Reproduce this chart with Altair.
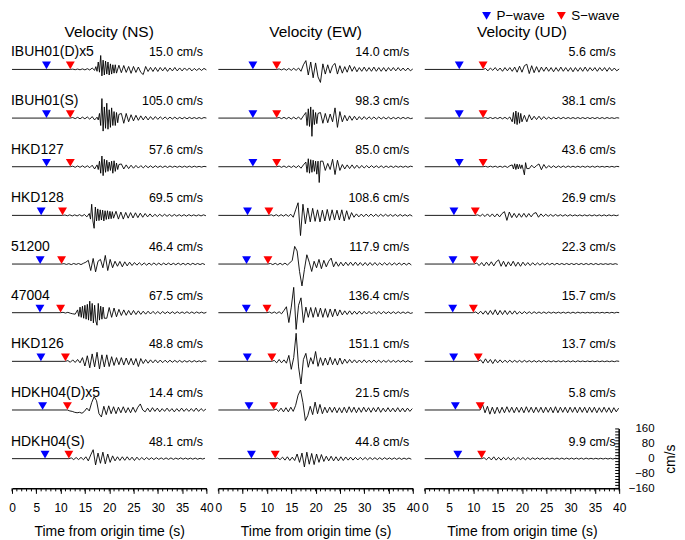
import altair as alt
import pandas as pd

# ---------------- data ----------------
stations = ["IBUH01(D)x5", "IBUH01(S)", "HKD127", "HKD128", "51200",
            "47004", "HKD126", "HDKH04(D)x5", "HDKH04(S)"]
gains = [5, 1, 1, 1, 1, 1, 1, 5, 1]
p_times = [7.1, 7.1, 7.1, 6.0, 5.8, 5.75, 5.95, 6.3, 6.8]
s_times = [12.0, 12.0, 12.0, 10.4, 10.2, 10.0, 11.0, 11.4, 11.7]
peaks_ns = [15.0, 105.0, 57.6, 69.5, 46.4, 67.5, 48.8, 14.4, 48.1]
peaks_ew = [14.0, 98.3, 85.0, 108.6, 117.9, 136.4, 151.1, 21.5, 44.8]
peaks_ud = [5.6, 38.1, 43.6, 26.9, 22.3, 15.7, 13.7, 5.8, 9.9]
titles = ["Velocity (NS)", "Velocity (EW)", "Velocity (UD)"]
legend_labels = ["P\u2212wave", "S\u2212wave"]
x_ticks = [0, 5, 10, 15, 20, 25, 30, 35, 40]
scale_labels = [-160, -80, 0, 80, 160]
row_gap = 262      # cm/s between trace baselines
dt = 0.5           # s between samples, samples start at the S arrival
dt_burst = 0.25    # s between samples inside the strongest bursts

# velocity samples (cm/s) from the S arrival on
ns1 = [0, 0.3, -0.3, 0.4, -0.4, 0.6, -0.5, 0.8, -0.6, 1.5,
       -2, 6, 15.0, -7.5, 9.5, -6.5, 7.5, -5.5, 5.5, -4.5,
       4.5, -3.5, 4.2, -3.2, 3.2, -4.2, 3.2, -3.2, 2.6, -3.2,
       -5.5, 3.2, -2.2, 2.2, -2.2, 2.2, -2.2, 2.1, -1.6, 2.1,
       -2.1, 1.6, -1.6, 2.1, -1.6, 1.6, -1.6, 1.6, -1.1, 1.6,
       -1.6, 1.1, -1.1, 1.1, -1.1, 1.1, -0.5]
ns2 = [0, 3, -3, 4, -4, 5, -4, 6, -6, 8,
       -10, 15, -30, 105.0, -70, 80, -60, 60, -50, 35,
       -30, 25, -28, 25, -20, 18, -15, 15, -12, 12,
       -10, 10, -10, 8, -8, 8, -7, 7, -6, 6,
       -6, 5, -5, 5, -5, 4, -4, 4, -4, 4,
       -3, 3, -3, 3, -3, 3, 0]
ns3 = [0, 3, -3, 4, -3, 5, -4, 5, -5, 8,
       -12, 30, -40, 57.6, -48, 40, -35, 30, -38, 32,
       -25, 15, -12, 10, -10, 8, -8, 7, -7, 6,
       -6, 6, -5, 5, -5, 5, -4, 4, -4, 4,
       -4, 4, -3, 3, -3, 3, -3, 3, -3, 3,
       -3, 3, -2, 2, -2, 2, 0]
ns4 = [0, 2, -2, 3, -3, 3, -3, 4, -4, 5,
       -8, 25, 60, -69.5, 40, -35, 30, -32, 28, -25,
       30, -25, 22, -20, 18, -20, 16, -15, 15, -14,
       14, -12, 12, -10, 10, -8, 8, -8, 6, -6,
       6, -5, 6, -5, 5, -5, 5, -4, 4, -4,
       4, -4, 4, -3, 3, -3, 3, -3, 3, -2]
ns5 = [0, 2, -2, 2, -3, 3, -2, 3, -3, 4,
       10, 20, -35, 30, -42, 15, 25, -20, 46.4, -35,
       25, -20, 15, -12, 14, -15, 12, -10, 10, -8,
       8, -6, 7, -6, 6, -6, 5, -5, 6, -5,
       5, -5, 5, -4, 5, -4, 4, -4, 5, -4,
       4, -4, 4, -4, 4, -3, 3, -3, 3, -3]
ns6 = [0, 2, -2, 2, -3, -6, -8, 15, -25, 35,
       -40, 45, 62, -50, 45, -67.5, 50, -40, 35, -30,
       28, -25, 25, -22, 18, -15, 15, -14, 12, -12,
       12, -10, 10, -9, 8, -8, 8, -7, 7, -6,
       6, -6, 6, -5, 5, -5, 5, -5, 5, -4,
       4, -4, 5, -4, 4, -4, 4, -3, 3, -3, 2]
ns7 = [0, 4, -5, 8, -6, 10, -8, 20, -25, 30,
       -35, 40, -30, 48.8, -41, 35, -30, 35, -28, 25,
       -22, 20, -18, 20, -20, 18, -18, 16, -20, 15,
       -28, 15, -12, 10, -10, 8, -8, 8, -8, 7,
       -7, 6, -6, 6, -5, 5, -5, 5, -5, 4,
       -4, 4, -4, 4, -3, 3, -3, 3, 0]
ns8 = [0, -1, -1.5, -2.5, -3, -2.5, -3.5, -1.5, 2, -1,
       8, 14.4, 10, -4, -7.5, 4, -5, 4.5, -4, 3.5,
       -4, 3, -3, 3.5, -3, 2.5, -3, 3, -2.5, 3,
       6.5, 0, -2, 2, -2, 2.5, -1.5, 2, -2, 1.5,
       -1.5, 2, -1.5, 1.5, -2, 1.5, -1.5, 2, -1.5, 1.5,
       -1.5, 1.5, -1.5, 2, -1.5, 1.5, -1, 1]
ns9 = [0, 4, -5, 6, -5, 7, -6, 10, -12, 20,
       48.1, -34, 30, -25, 35, -28, 25, -20, 15, -12,
       10, -10, 10, -9, 10, -8, 8, -10, 8, -7,
       6, -6, 6, -5, 5, -5, 5, -4, 4, -4,
       4, -4, 4, -4, 3, -3, 4, -3, 3, -3,
       3, -3, 3, -3, 2, -2, 2]

ew1 = [0, 0.5, -0.5, 0.8, -0.8, 1, -1, 1.2, -1, 1.5,
       -2, 5, 9.5, -6, 8, -9, 7, -8, -14.0, 6,
       -5, 5, -4, 4, 6.5, -5, 4, -4, 3, -3,
       4.5, -2, 3, -2.5, 2, -2, 2.5, -2, 2, -2,
       2.5, -2, 2, -2, 2, -2, 2, -1.5, 2, -1.5,
       2, -1.5, 1.5, -1.5, 1.5, -1.5, 0.5]
ew2 = [0, 3, -3, 4, -4, 4, -5, 5, -5, 6,
       -8, 12, 30, -40, 60, -98.3, 45, -35, 30, -28,
       25, -25, 22, -20, 55, -50, 35, -20, 15, -15,
       12, -12, 10, -10, 8, -8, 8, -7, 7, -6,
       6, -6, 6, -5, 5, -5, 5, -5, 4, -4,
       4, -4, 4, -3, 3, -3, 0]
ew3 = [0, 3, -3, 4, -4, 4, -4, 5, -5, 6,
       -8, 10, 25, -30, 43, -35, 38, -30, -85.0, 30,
       -20, 18, -15, 40, -42, 35, -20, 12, -12, 10,
       -10, 10, -9, 8, -8, 7, -7, 6, -6, 6,
       -5, 5, -5, 5, -5, 4, -4, 4, -4, 4,
       -3, 3, -3, 3, -3, 3, 0]
ew4 = [0, 3, -3, 4, -4, 4, -4, 5, -5, 6,
       -10, 30, 68, -108.6, 60, -45, 40, -35, 38, -32,
       30, -35, 28, -30, 32, -28, 30, -25, 28, -25,
       30, -30, 25, -22, 15, -10, 8, -8, 7, -7,
       7, -6, 7, -6, 6, -6, 6, -5, 6, -5,
       5, -5, 5, -5, 5, -4, 4, -4, 4, -4]
ew5 = [0, 3, -3, 4, -4, 4, -4, 5, -5, 6,
       20, 95, 70, -40, -117.9, -30, 50, 10, -40, 15,
       -20, 25, -25, 20, -15, 15, 32, -15, 12, -12,
       10, -10, 10, -8, 10, -8, 10, -8, 8, -8,
       8, -8, 8, -7, 8, -7, 6, -6, 7, -6,
       6, -6, 6, -5, 6, -5, 5, -5, 5, -5]
ew6 = [0, 3, -3, 4, -4, 5, -6, 12, 32, -53,
       30, 136.4, -90, 40, 80, -53, 30, -25, 28, -25,
       28, -22, 25, -25, 22, -25, 20, -22, 20, -18,
       15, -12, 10, -10, 10, -9, 8, -8, 8, -8,
       7, -7, 7, -7, 6, -6, 6, -6, 6, -5,
       5, -5, 5, -5, 5, -4, 4, -4, 4, -4, 0]
ew7 = [0, 5, -8, 10, -8, 8, -10, 32, -43, 20,
       151.1, -30, -122, 10, 43, -32, 20, -15, 53, -27,
       20, -22, 18, -20, 22, -18, 15, -20, 18, -15,
       12, -10, 10, -8, 8, -8, 7, -7, 8, -7,
       6, -6, 7, -6, 6, -6, 5, -5, 6, -5,
       5, -5, 5, -4, 5, -4, 4, -4, 0]
ew8 = [0, 1, -1.5, 2, -2, 2.5, -2, 3, -1.5, 5,
       16, 21.5, 8, -11.4, -6, 4, -5, 8.5, -4, 6,
       -4, 3, -3, 3, -2.5, 3, -3, 2.5, -3, 3,
       -3, 3.5, -2.5, 3, -3, 2.5, -2.5, 3, -2, 2.5,
       -2.5, 2.5, -2, 3, -2.5, 2, -2, 2.5, -2, 2,
       -2, 2.5, -2, 2, -2, 2, -1.5, 1.5]
ew9 = [0, 3, -5, 8, -8, 10, -10, 8, -10, 25,
       -20, 30, -44.8, 35, -30, 28, -32, 25, -20, 22,
       -15, 13, -12, 13, -12, 10, -12, 10, -10, 9,
       -8, 8, -8, 7, -7, 7, -6, 6, -6, 6,
       -5, 5, -5, 5, -5, 5, -4, 4, -4, 4,
       -4, 4, -4, 3, -3, 3, -3]

ud1 = [0, 1, -1.5, 1.5, -1, 2, -1.5, 1.5, -2, 2,
       -1.5, 2, -2, 2.5, -3, 3.5, -3, 4, 5.6, -4.5,
       4, -3.5, 3, -3, 2.5, -2, 2.5, -2, 2, -2.5,
       2, -2, 2.5, -2, 2, -2, 2, -2.5, 2, -2,
       2, -2, 2.5, -2, 2, -1.5, 2, -2, 2, -1.5,
       2, -2, 2, -1.5, 1.5, -1.5, 0.5]
ud2 = [0, 2, -2, 3, -3, 3, -3, 4, -4, 4,
       -5, 6, -20, 38.1, -35, 30, -25, 15, -20, 18,
       -10, 10, -8, 10, -8, 8, -6, 5, -5, 4,
       -4, 4, -4, 4, -3, 3, -3, 3, -3, 3,
       -3, 3, -3, 3, -3, 3, -3, 3, -3, 3,
       -3, 3, -2, 2, -2, 2, 0]
ud3 = [0, 2, -2, 3, -2, 3, -3, 3, -3, 4,
       -4, 5, 10, -15, 16, -14, 12, -43.6, 22, -10,
       8, -6, 6, 15, -16, 12, -8, 6, -5, 5,
       -5, 4, -4, 4, -4, 4, -3, 3, -3, 3,
       -3, 3, -3, 3, -3, 3, -3, 3, -2, 2,
       -2, 2, -2, 2, -2, 2, 0]
ud4 = [0, 3, -4, 6, -6, 8, -7, 8, -8, 8,
       -8, 10, 20, -26.9, 18, -12, 11, -12, 10, -10,
       11, -10, 10, -8, 10, 15, -10, 8, -6, 6,
       -5, 5, -5, 5, -4, 4, -4, 4, -4, 4,
       -3, 3, -3, 3, -3, 3, -3, 3, -3, 3,
       -3, 3, -3, 3, -3, 3, -2, 2, -2, 2]
ud5 = [0, 5, -8, 8, -10, 10, -8, 12, -10, 12,
       22.3, -12, 15, -14, 12, -10, 15, -12, 10, -12,
       10, -8, 8, -8, 7, -6, 6, -6, 5, -5,
       5, -4, 4, -4, 4, -3, 3, -3, 3, -3,
       3, -3, 3, -3, 3, -3, 3, -3, 3, -3,
       3, -3, 2, -2, 2, -2, 2, -2, 2, -2]
ud6 = [0, 4, -6, 8, -8, 10, -10, 12, -10, 15.7,
       -12, 12, -10, 12, -10, 10, -8, 10, -8, 6,
       -6, 6, -5, 5, -5, 5, -4, 4, -4, 4,
       -4, 4, -3, 3, -3, 3, -3, 3, -3, 3,
       -3, 3, -3, 3, -2, 2, -2, 2, -2, 2,
       -2, 2, -2, 2, -2, 2, -2, 2, -2, 2, 0]
ud7 = [0, 8, -10, 13.7, -8, 10, -12, 10, -8, 8,
       -7, 6, -6, 6, -5, 5, -5, 5, -5, 5,
       -4, 4, -4, 4, -4, 4, -4, 4, -3, 3,
       -3, 3, -3, 3, -3, 3, -3, 3, -3, 3,
       -3, 3, -2, 2, -2, 2, -2, 2, -2, 2,
       -2, 2, -2, 2, -2, 2, -2, 2, 0]
ud8 = [0, 5.8, -3, 4, -4.5, 3, -4, 3, -3.5, 3,
       -3, 3.5, -2.5, 3, -3, 3, -2.5, 3, -3, 3.5,
       -2.5, 3, -3, 3, -2.5, 3, -3, 3, -2.5, 3,
       -3, 3.5, -3, 3, -2.5, 3, -3, 3, -2.5, 3,
       -3, 3, -2.5, 3, -3, 3, -2.5, 3, -3, 2.5,
       -2.5, 3, -2.5, 2.5, -3, 2.5, -2, 2]
ud9 = [0, 5, -6, 8, -7, 9.9, -8, 7, -8, 7,
       -6, 7, -8, 6, -7, 6, -5, 6, -6, 5,
       -5, 4, -4, 4, -4, 4, -4, 3, -3, 3,
       -3, 3, -3, 3, -3, 3, -3, 3, -3, 3,
       -3, 3, -3, 3, -2, 2, -2, 2, -2, 2,
       -2, 2, -2, 2, -2, 2, 0]

# denser samples (every 0.25 s) for the strongest bursts: (start time, values)
ns1_burst = [-1, 3, -2, 8, -3, 15.0, -7, 10, -6, 9, -5, 8, -6, 6, -5, 5, -4, 5, -4]
ns2_burst = [5, -10, 25, -40, 105.0, -70, 60, -55, 80, -60, 45, -50, 55, -40, 35,
             -40, 30, -25, 20]
ns3_burst = [10, -15, 30, -35, 57.6, -48, 40, -30, 35, -25, 25, -20, 30, -35, 32,
             -25, 20, -15, 12]
ns4_burst = [10, -20, 60, -30, -69.5, 45, -30, 35, -28, 30, -25, 28, -30, 25, -22,
             25, -20, 22, -18, 20, -15]
ns6_burst = [15, -20, 30, -25, 35, -30, 40, -35, 45, -40, 62, -45, 50, -55, 40,
             -45, -67.5, 50, -40, 35, -35, 30, -30]
ew2_burst = [30, -40, 50, -45, 60, -98.3, 45, -35, 30, -30, 25]
ew3_burst = [25, -30, 43, -35, 38, -30, 35, -25, 30, -40, 30, -85.0, 30]
ud2_burst = [-20, 30, -30, 38.1, -35, 30, -28, 25, -20]
ud3_burst = [10, -12, 16, -15, 14, -12, 12, -10, 10, -15, -43.6, 22, -10]

ns_traces = [ns1, ns2, ns3, ns4, ns5, ns6, ns7, ns8, ns9]
ew_traces = [ew1, ew2, ew3, ew4, ew5, ew6, ew7, ew8, ew9]
ud_traces = [ud1, ud2, ud3, ud4, ud5, ud6, ud7, ud8, ud9]
ns_bursts = [(17.0, ns1_burst), (17.5, ns2_burst), (17.5, ns3_burst), (15.9, ns4_burst),
             None, (13.5, ns6_burst), None, None, None]
ew_bursts = [None, (18.0, ew2_burst), (18.0, ew3_burst), None, None, None, None, None, None]
ud_bursts = [None, (18.0, ud2_burst), (18.0, ud3_burst), None, None, None, None, None, None]

# ---------------- layout ----------------
W, H = 195, 447
Y_MIN, Y_MAX = -160, 2240
FONT = "Liberation Sans"
xscale = alt.Scale(domain=[0, 40], nice=False, zero=False)
yscale = alt.Scale(domain=[Y_MIN, Y_MAX], nice=False, zero=False)
n_rows = len(stations)


def base_of(i):
    return (n_rows - 1 - i) * row_gap


def trace_frame(traces, bursts):
    recs = []
    for i, vals in enumerate(traces):
        b = base_of(i)
        g = gains[i]
        lo, hi = 99.0, -1.0
        if bursts[i] is not None:
            t0, bv = bursts[i]
            lo, hi = t0, t0 + dt_burst * (len(bv) - 1)
            for k, v in enumerate(bv):
                recs.append({"row": i, "t": round(t0 + dt_burst * k, 3), "y": b + v * g})
        recs.append({"row": i, "t": 0.0, "y": b})
        for k, v in enumerate(vals):
            t = round(s_times[i] + dt * k, 3)
            if t > 40.0 + 1e-9 or (lo - 1e-9 <= t <= hi + 1e-9):
                continue
            recs.append({"row": i, "t": t, "y": b + v * g})
    return pd.DataFrame(recs).sort_values(["row", "t"])


def marker_frame(peaks):
    return pd.DataFrame({
        "row": list(range(n_rows)),
        "p": p_times,
        "s": s_times,
        "base": [base_of(i) for i in range(n_rows)],
        "station": stations,
        "amp": [f"{v:.1f} cm/s" for v in peaks],
    })


xaxis = alt.Axis(values=x_ticks, title="Time from origin time (s)",
                 labelFlush=False, labelFontSize=12, titleFontSize=14,
                 titleFontWeight="normal", tickSize=5, labelPadding=9,
                 titlePadding=11, domainColor="black", tickColor="black",
                 labelColor="black", titleColor="black", domainWidth=1.5,
                 tickWidth=1, grid=False, format="d", labelOverlap=False)
zero_px = H * Y_MAX / (Y_MAX - Y_MIN)
scale_axis = alt.Axis(values=scale_labels, orient="right", ticks=False, domain=False,
                      labelAlign="right", labelBaseline="middle", labelPadding=35,
                      labelFontSize=11.5, labelColor="black", title="cm/s",
                      titleFontSize=14, titleFontWeight="normal", titleAngle=270,
                      titleX=51, titleY=zero_px, titleAlign="center",
                      titleBaseline="middle", titleColor="black", grid=False,
                      labelOverlap=False)


def panel(traces, bursts, peaks, title, first=False, last=False):
    yax = scale_axis if last else None
    df = trace_frame(traces, bursts)
    mk = marker_frame(peaks)
    line = alt.Chart(df).mark_line(color="black", strokeWidth=0.9).encode(
        x=alt.X("t:Q", scale=xscale, axis=xaxis),
        y=alt.Y("y:Q", scale=yscale, axis=yax),
        detail="row:N", order="t:Q")
    minor = alt.Chart(pd.DataFrame({"t": list(range(0, 41))})).mark_rule(
        color="black", strokeWidth=1).encode(
        x=alt.X("t:Q", scale=xscale, axis=xaxis),
        y=alt.value(H), y2=alt.value(H + 3))
    ptri = alt.Chart(mk).mark_point(shape="triangle-down", filled=True, size=80,
                                    color="#0000ff", opacity=1, yOffset=-4).encode(
        x=alt.X("p:Q", scale=xscale, axis=xaxis),
        y=alt.Y("base:Q", scale=yscale, axis=yax))
    stri = alt.Chart(mk).mark_point(shape="triangle-down", filled=True, size=80,
                                    color="#ff0000", opacity=1, yOffset=-4).encode(
        x=alt.X("s:Q", scale=xscale, axis=xaxis),
        y=alt.Y("base:Q", scale=yscale, axis=yax))
    amp = alt.Chart(mk).mark_text(align="right", baseline="middle", dx=-3.5, dy=-17,
                                  fontSize=12.5, color="black").encode(
        x=alt.value(W), y=alt.Y("base:Q", scale=yscale, axis=yax), text="amp:N")
    one = pd.DataFrame({"k": [0]})
    ttl = alt.Chart(one).mark_text(align="center", baseline="middle", fontSize=15.5,
                                   color="black").encode(
        x=alt.value(W / 2), y=alt.value(-11), text=alt.value(title))
    layers = [line, minor, ptri, stri, amp, ttl]
    if first:
        st = alt.Chart(mk).mark_text(align="left", baseline="middle", dx=-1, dy=-17,
                                     fontSize=14, color="black").encode(
            x=alt.value(0), y=alt.Y("base:Q", scale=yscale, axis=yax),
            text="station:N")
        layers.append(st)
    if last:
        sb = pd.DataFrame({"t": [40], "lo": [scale_labels[0]], "hi": [scale_labels[-1]]})
        bar = alt.Chart(sb).mark_rule(color="black", strokeWidth=1.5).encode(
            x=alt.X("t:Q", scale=xscale, axis=xaxis),
            y=alt.Y("lo:Q", scale=yscale, axis=yax), y2="hi:Q")
        tk = pd.DataFrame({"t": 40, "v": list(range(scale_labels[0], scale_labels[-1] + 1, 16))})
        ticks = alt.Chart(tk).mark_tick(orient="horizontal", size=4, thickness=1,
                                        xOffset=-2, color="black", opacity=1).encode(
            x=alt.X("t:Q", scale=xscale, axis=xaxis),
            y=alt.Y("v:Q", scale=yscale, axis=yax))
        ly = -27
        lp = alt.Chart(one).mark_point(shape="triangle-down", filled=True, size=80,
                                       color="#0000ff", opacity=1).encode(
            x=alt.value(62), y=alt.value(ly))
        lpt = alt.Chart(one).mark_text(align="left", baseline="middle", fontSize=13.5,
                                       color="black").encode(
            x=alt.value(72), y=alt.value(ly), text=alt.value(legend_labels[0]))
        ls = alt.Chart(one).mark_point(shape="triangle-down", filled=True, size=80,
                                       color="#ff0000", opacity=1).encode(
            x=alt.value(137), y=alt.value(ly))
        lst = alt.Chart(one).mark_text(align="left", baseline="middle", fontSize=13.5,
                                       color="black").encode(
            x=alt.value(147), y=alt.value(ly), text=alt.value(legend_labels[1]))
        layers += [bar, ticks, lp, lpt, ls, lst]
    return alt.layer(*layers).properties(width=W, height=H)


chart = alt.hconcat(
    panel(ns_traces, ns_bursts, peaks_ns, titles[0], first=True),
    panel(ew_traces, ew_bursts, peaks_ew, titles[1]),
    panel(ud_traces, ud_bursts, peaks_ud, titles[2], last=True),
    spacing=12, bounds="flush",
).properties(padding=0).configure(font=FONT).configure_view(stroke=None)

chart.save("out.html", embed_options={"renderer": "svg", "actions": False})
